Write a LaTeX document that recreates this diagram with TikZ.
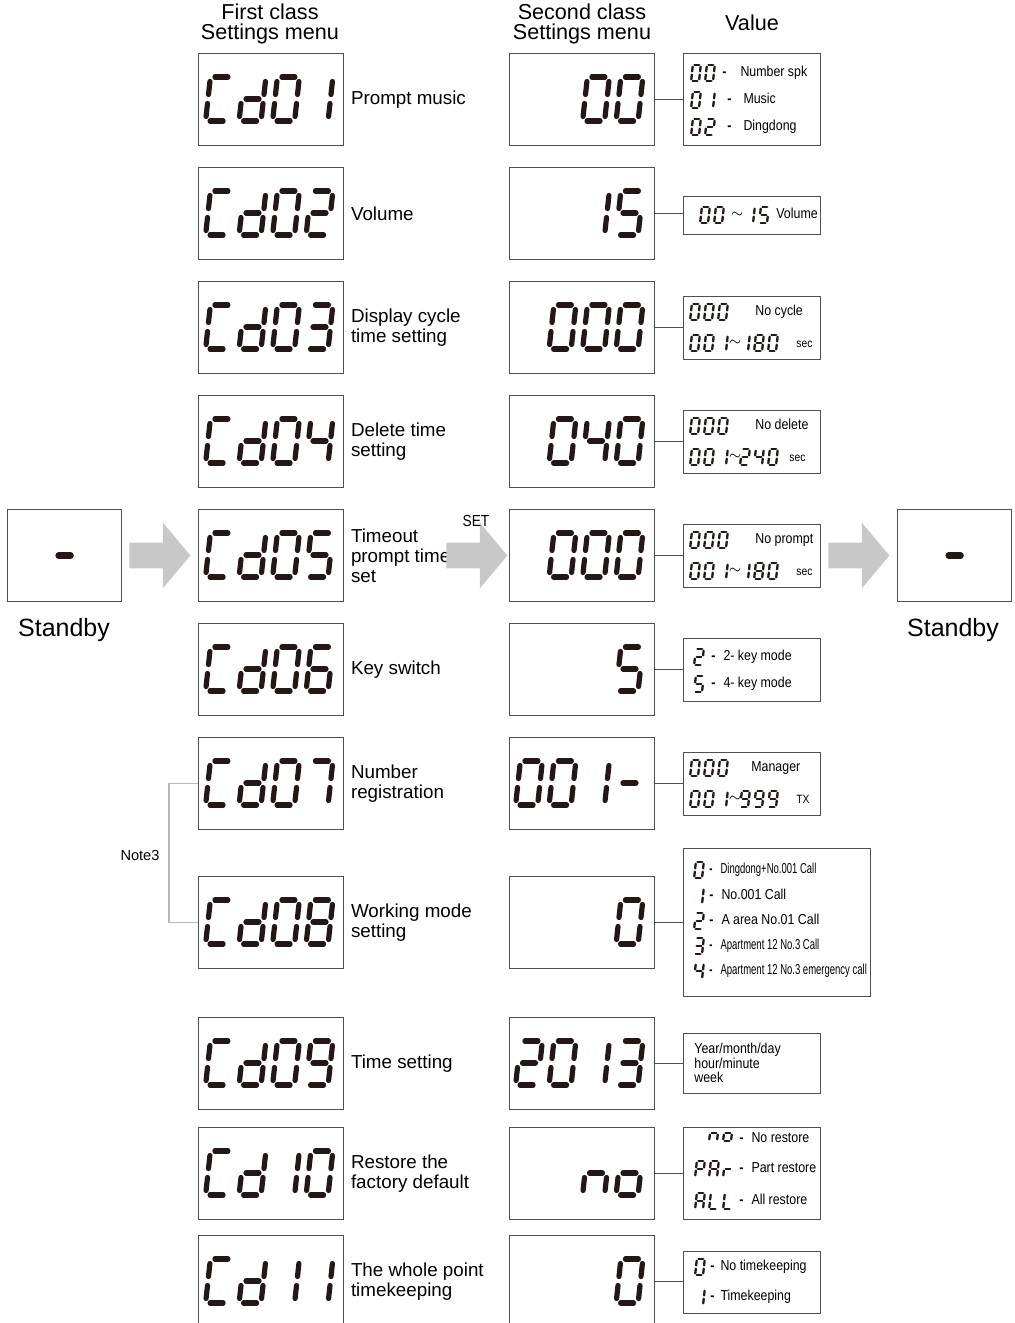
\documentclass[tikz,border=0pt]{standalone}
\usepackage{fontspec}
\setmainfont{Liberation Sans}
\newfontfamily\narrowfont[FakeStretch=0.86]{Liberation Sans}
\newfontfamily\squeezefont[FakeStretch=0.66]{Liberation Sans}
\usepackage{xcolor}
\usepackage{tikz}
\usetikzlibrary{positioning}
\usetikzlibrary{calc}
\usetikzlibrary{shapes.arrows}

\definecolor{lcdink}{RGB}{35,24,21}
\definecolor{boxline}{RGB}{80,80,80}
\definecolor{arrowgray}{RGB}{200,200,200}
\definecolor{notegray}{RGB}{185,185,185}

% one segment of a seven segment cell (a..g), x to the right, y down
\newcommand{\lcdseg}[1]{%
	\if a#1\draw (4.5,-22) -- (17.5,-22);\fi
	\if b#1\draw (22,-17.5) -- (22,-4.5);\fi
	\if c#1\draw (22,4.5) -- (22,17.5);\fi
	\if d#1\draw (4.5,22) -- (17.5,22);\fi
	\if e#1\draw (0,4.5) -- (0,17.5);\fi
	\if f#1\draw (0,-17.5) -- (0,-4.5);\fi
	\if g#1\draw (4.5,0) -- (17.5,0);\fi}
\def\lcdloop#1{\ifx\relax#1\else\lcdseg{#1}\expandafter\lcdloop\fi}
\newcommand{\lcdchar}[4][bigseg]{%
	\begin{scope}[shift={(#2,#3)}, #1]
		\edef\cursegs{#4}%
		\expandafter\lcdloop\cursegs\relax
	\end{scope}}
\newcommand{\lcdbig}[3]{\foreach \sg [count=\k from 0] in {#3} {\lcdchar{#1+33.5*\k}{#2}{\sg}}}
\newcommand{\lcdsmall}[3]{\foreach \sg [count=\k from 0] in {#3} {\lcdchar[smallseg]{#1+14*\k}{#2}{\sg}}}
\newcommand{\vdashgap}[1]{{\bfseries -}\hspace{#1}}

\tikzset{
	bigseg/.style={xslant=0.11, color=lcdink, line width=2.6pt, line cap=round},
	smallseg/.style={scale=0.36, xslant=0.11, color=lcdink, line width=1.15pt, line cap=round},
	menubox/.style={draw=boxline, line width=0.6pt, minimum width=72.5pt, minimum height=46pt, inner sep=0, anchor=north west},
	valbox/.style={draw=boxline, line width=0.6pt, inner sep=0, anchor=north west},
	menulabel/.style={font=\fontsize{9.4}{10}\selectfont, align=left, anchor=west, inner sep=0},
	heading/.style={font=\fontsize{10.8}{9.6}\selectfont, align=center, inner sep=0},
	valtext/.style={font=\narrowfont\fontsize{7.2}{8.6}\selectfont, anchor=west, inner sep=0, text height=5.3pt, text depth=1.5pt},
	sqtext/.style={valtext, font=\squeezefont\fontsize{7.2}{8.6}\selectfont},
	unittext/.style={valtext, font=\narrowfont\fontsize{6}{7}\selectfont},
	tilde/.style={font=\fontsize{7}{7}\selectfont, inner sep=0},
	conn/.style={draw=boxline, line width=0.5pt},
	blockarrow/.style={single arrow, fill=arrowgray, draw=none, inner xsep=0, inner ysep=6.25pt, minimum height=30.5pt, single arrow head extend=10pt, single arrow tip angle=100},
}

\begin{document}
\begin{tikzpicture}[x=0.5pt, y=-0.5pt]
	\useasboundingbox (0,0) rectangle (1015,1323);

	\node[heading] (h1) at (270,24) {First class\\Settings menu};
	\node[heading] (h2) at (582,24) {Second class\\Settings menu};
	\node[heading] (h3) at (752,23) {Value};

	% first class menu
	\foreach \ytop/\dA/\dB/\lbl [count=\i] in {
		53/abcdef/bc/{Prompt music},
		167/abcdef/abged/{Volume},
		281/abcdef/abgcd/{Display cycle\\time setting},
		395/abcdef/bcfg/{Delete time\\setting},
		509/abcdef/afgcd/{Timeout\\prompt time\\set},
		623/abcdef/acdefg/{Key switch},
		737/abcdef/abc/{Number\\registration},
		876/abcdef/abcdefg/{Working mode\\setting},
		1017/abcdef/abcdfg/{Time setting},
		1127/bc/abcdef/{Restore the\\factory default},
		1235/bc/bc/{The whole point\\timekeeping}}
	{
		\node[menubox] (f\i) at (198,\ytop) {};
		\lcdbig{208}{\ytop+46}{adef,bcdeg,\dA,\dB}
		\node[menulabel] (l\i) at ([xshift=3.2pt]f\i.east) {\lbl};
	}

	% second class menu
	\foreach \ytop/\dA/\dB/\dC/\dD [count=\i] in {
		53/z/z/abcdef/abcdef,
		167/z/z/bc/acdfg,
		281/z/abcdef/abcdef/abcdef,
		395/z/abcdef/bcfg/abcdef,
		509/z/abcdef/abcdef/abcdef,
		623/z/z/z/acdfg,
		737/abcdef/abcdef/bc/g,
		876/z/z/z/abcdef,
		1017/abdeg/abcdef/bc/abcdg,
		1127/z/z/ceg/cdeg,
		1235/z/z/z/abcdef}
	{
		\node[menubox] (s\i) at (509,\ytop) {};
		\lcdbig{518}{\ytop+46}{\dA,\dB,\dC,\dD}
	}

	% values
	\node[valbox, minimum width=68.5pt, minimum height=46pt] (v1) at (683,53) {};
	\lcdsmall{692}{73}{abcdef,abcdef}
	\lcdsmall{692}{100}{abcdef,bc}
	\lcdsmall{692}{127}{abcdef,abdeg}
	\node[valtext] (v1a) at (722,73) {\vdashgap{7pt}Number spk};
	\node[valtext] (v1b) at (727,100) {\vdashgap{6pt}Music};
	\node[valtext] (v1c) at (727,127) {\vdashgap{6pt}Dingdong};

	\node[valbox, minimum width=68.5pt, minimum height=19pt] (v2) at (683,196) {};
	\lcdsmall{701}{215}{abcdef,abcdef}
	\node[tilde] (v2t) at (737,215) {$\sim$};
	\lcdsmall{746}{215}{bc,acdfg}
	\node[valtext] (v2a) at (776,215) {Volume};

	\node[valbox, minimum width=68.5pt, minimum height=31.5pt] (v3) at (683,296) {};
	\lcdsmall{691}{312}{abcdef,abcdef,abcdef}
	\node[valtext] (v3a) at (755,312) {No cycle};
	\lcdsmall{691}{343}{abcdef,abcdef,bc}
	\node[tilde] (v3t) at (735,343) {$\sim$};
	\lcdsmall{741}{343}{bc,abcdefg,abcdef}
	\node[unittext] (v3b) at (796,344) {sec};

	\node[valbox, minimum width=68.5pt, minimum height=31.5pt] (v4) at (683,410) {};
	\lcdsmall{691}{426}{abcdef,abcdef,abcdef}
	\node[valtext] (v4a) at (755,426) {No delete};
	\lcdsmall{691}{457}{abcdef,abcdef,bc}
	\node[tilde] (v4t) at (735,457) {$\sim$};
	\lcdsmall{741}{457}{abdeg,bcfg,abcdef}
	\node[unittext] (v4b) at (789,458) {sec};

	\node[valbox, minimum width=68.5pt, minimum height=31.5pt] (v5) at (683,524) {};
	\lcdsmall{691}{540}{abcdef,abcdef,abcdef}
	\node[valtext] (v5a) at (755,540) {No prompt};
	\lcdsmall{691}{571}{abcdef,abcdef,bc}
	\node[tilde] (v5t) at (735,571) {$\sim$};
	\lcdsmall{741}{571}{bc,abcdefg,abcdef}
	\node[unittext] (v5b) at (796,572) {sec};

	\node[valbox, minimum width=68.5pt, minimum height=31.5pt] (v6) at (683,638) {};
	\lcdsmall{695}{657}{abdeg}
	\node[valtext] (v6a) at (711,657) {\vdashgap{4pt}2- key mode};
	\lcdsmall{695}{684}{acdfg}
	\node[valtext] (v6b) at (711,684) {\vdashgap{4pt}4- key mode};

	\node[valbox, minimum width=68.5pt, minimum height=31.5pt] (v7) at (683,752) {};
	\lcdsmall{691}{768}{abcdef,abcdef,abcdef}
	\node[valtext] (v7a) at (751,768) {Manager};
	\lcdsmall{691}{799}{abcdef,abcdef,bc}
	\node[tilde] (v7t) at (735,799) {$\sim$};
	\lcdsmall{741}{799}{abcdfg,abcdfg,abcdfg}
	\node[unittext] (v7b) at (796,800) {TX};

	\node[valbox, minimum width=93.5pt, minimum height=74pt] (v8) at (683,848) {};
	\lcdsmall{695}{870}{abcdef}
	\node[sqtext] (v8a) at (709,870) {\vdashgap{4pt}Dingdong+No.001 Call};
	\lcdsmall{695}{896}{bc}
	\node[valtext] (v8b) at (709,896) {\vdashgap{4pt}No.001 Call};
	\lcdsmall{695}{921}{abdeg}
	\node[valtext] (v8c) at (709,921) {\vdashgap{4pt}A area No.01 Call};
	\lcdsmall{695}{946}{abcdg}
	\node[sqtext] (v8d) at (709,946) {\vdashgap{4pt}Apartment 12 No.3 Call};
	\lcdsmall{695}{971}{bcfg}
	\node[sqtext] (v8e) at (709,971) {\vdashgap{4pt}Apartment 12 No.3 emergency call};

	\node[valbox, minimum width=68.5pt, minimum height=30pt] (v9) at (683,1033) {};
	\node[valtext, align=left, text height=, text depth=, font=\narrowfont\fontsize{7.2}{7.3}\selectfont] (v9a) at (694,1063) {Year/month/day\\hour/minute\\week};

	\node[valbox, minimum width=68.5pt, minimum height=46pt] (v10) at (683,1127) {};
	\lcdsmall{710}{1133}{ceg,cdeg}
	\node[valtext] (v10a) at (739,1139) {\vdashgap{4pt}No restore};
	\lcdsmall{696}{1169}{abefg,abcefg,eg}
	\node[valtext] (v10b) at (739,1169) {\vdashgap{4pt}Part restore};
	\lcdsmall{696}{1201}{abcefg,def,def}
	\node[valtext] (v10c) at (739,1201) {\vdashgap{4pt}All restore};

	\node[valbox, minimum width=68.5pt, minimum height=31pt] (v11) at (683,1251) {};
	\lcdsmall{696}{1267}{abcdef}
	\node[valtext] (v11a) at (710,1267) {\vdashgap{3pt}No timekeeping};
	\lcdsmall{696}{1297}{bc}
	\node[valtext] (v11b) at (710,1297) {\vdashgap{3pt}Timekeeping};

	\foreach \i in {1,...,11}
	{
		\draw[conn] (s\i.east) -- (s\i.east -| v\i.west);
	}

	% standby and arrows
	\node[menubox, minimum width=57pt] (sb1) at (7,509) {};
	\node[menubox, minimum width=57pt] (sb2) at (897,509) {};
	\draw[color=lcdink, line width=3.2pt, line cap=round] ([xshift=-3pt]sb1.center) -- ([xshift=3pt]sb1.center);
	\draw[color=lcdink, line width=3.2pt, line cap=round] ([xshift=-3pt]sb2.center) -- ([xshift=3pt]sb2.center);
	\node[font=\fontsize{12.5}{14}\selectfont, inner sep=0] (sbt1) at (64,630) {Standby};
	\node[font=\fontsize{12.5}{14}\selectfont, inner sep=0] (sbt2) at (953,630) {Standby};

	\node[blockarrow] (ar1) at (154.5,555.5) {};
	\node[blockarrow] (ar2) at (471.5,555.5) {};
	\node[blockarrow] (ar3) at (853.5,555.5) {};
	\node[font=\narrowfont\fontsize{8}{9}\selectfont, inner sep=0] (set) at (476,521) {SET};

	% note 3 bracket
	\draw[notegray, line width=0.6pt] (f7.west) -- ++(-29,0) |- (f8.west);
	\node[font=\fontsize{7.3}{8}\selectfont, inner sep=0] (note) at (140,855) {Note3};
\end{tikzpicture}
\end{document}
